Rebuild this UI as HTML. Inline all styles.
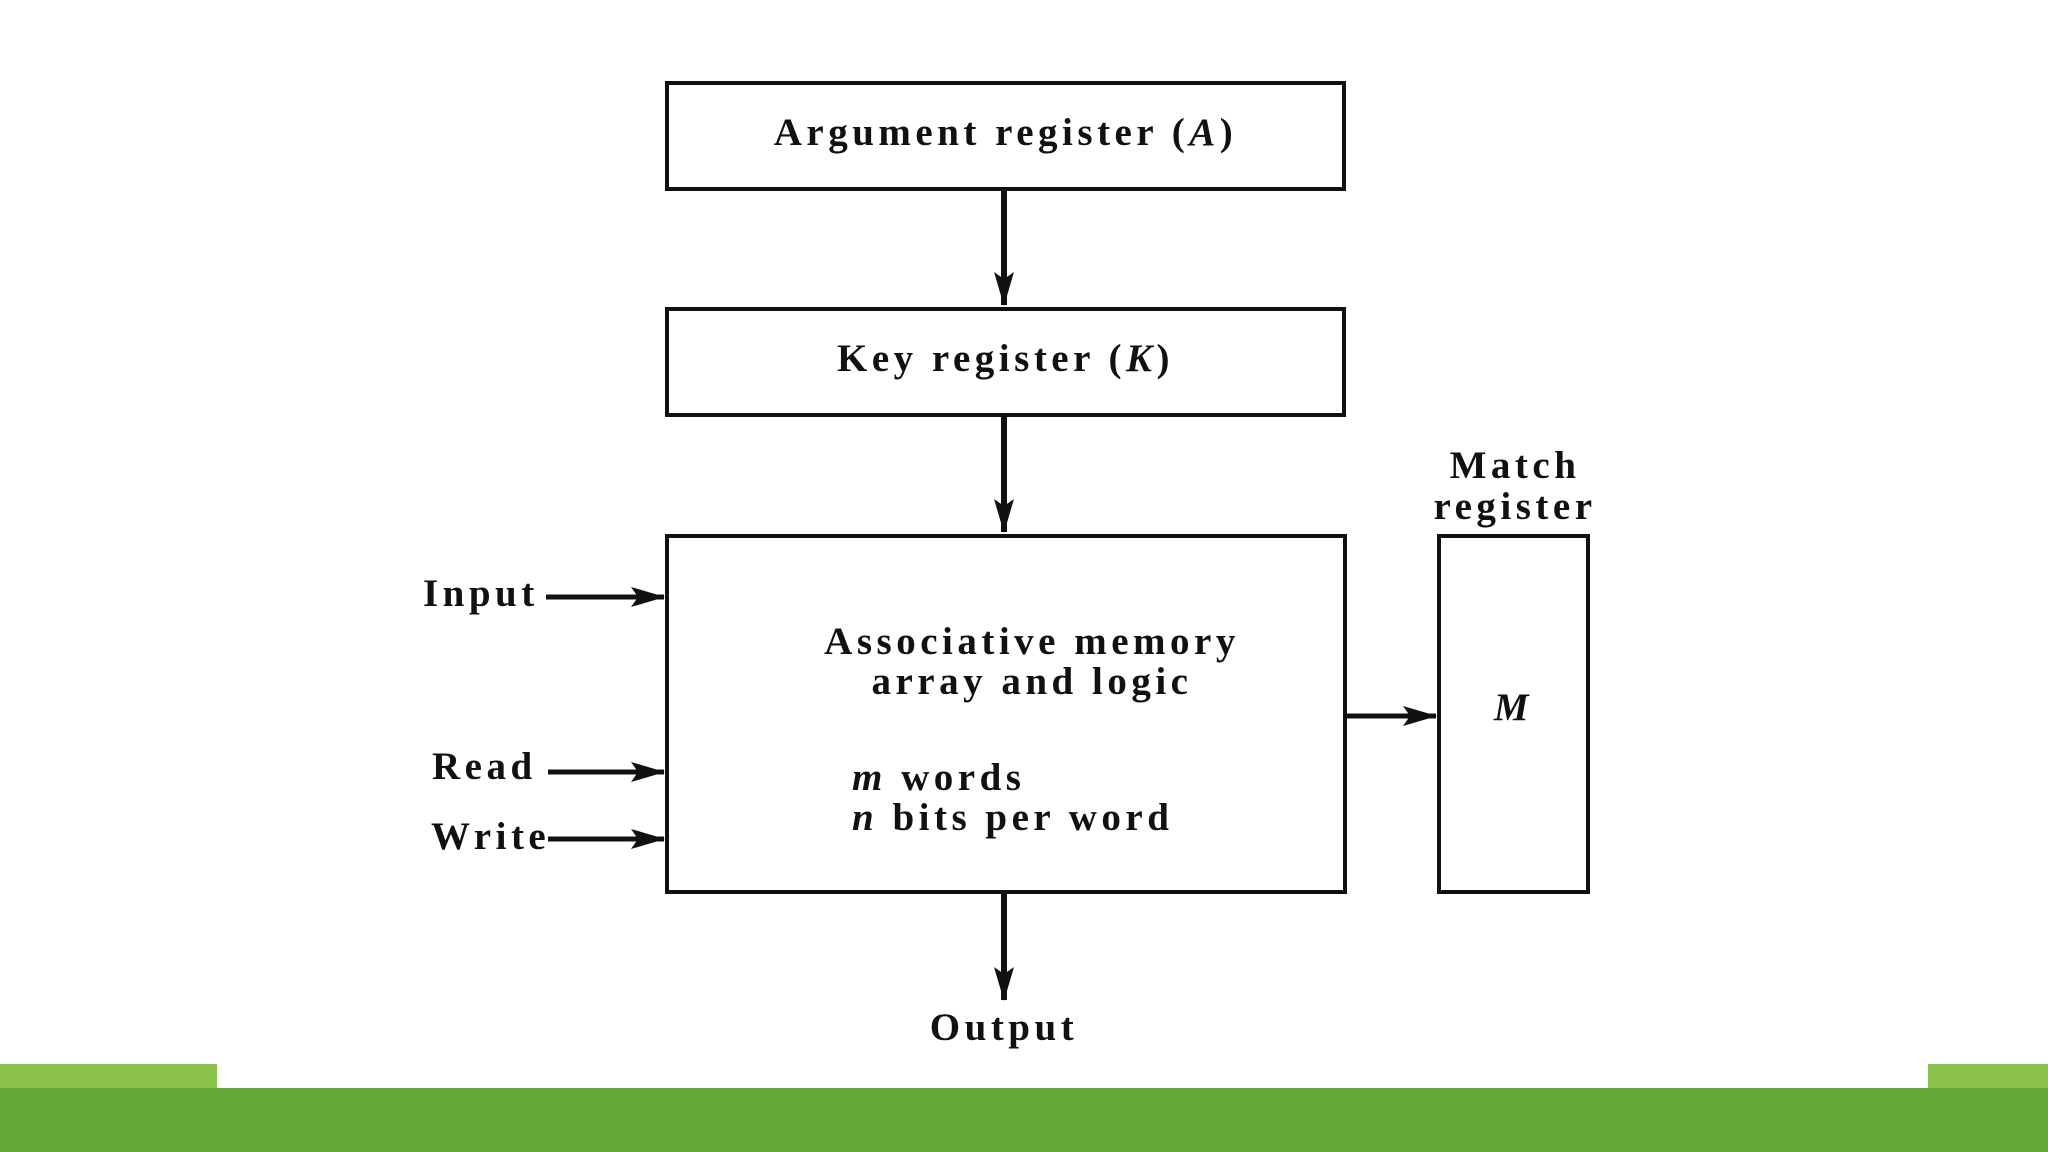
<!DOCTYPE html>
<html><head><meta charset="utf-8"><style>
html,body{margin:0;padding:0;background:#fff;}
body{width:2048px;height:1152px;position:relative;overflow:hidden;font-family:"Liberation Serif",serif;}
.t{position:absolute;font-weight:bold;font-size:39px;letter-spacing:4.5px;color:#111;white-space:nowrap;}
</style></head><body>
<div style="position:absolute;left:0;top:1064px;width:217px;height:24px;background:#8bc34a"></div>
<div style="position:absolute;left:1928px;top:1064px;width:120px;height:24px;background:#8bc34a"></div>
<div style="position:absolute;left:0;top:1088px;width:2048px;height:64px;background:#66a835"></div>
<svg width="2048" height="1152" style="position:absolute;left:0;top:0">
<defs>
<marker id="b" viewBox="0 0 34 20" markerWidth="34" markerHeight="20" refX="33" refY="10" orient="auto" markerUnits="userSpaceOnUse"><path d="M0,0 L34,10 L0,20 L7,10 Z" fill="#111"/></marker></defs>
<g fill="none" stroke="#111" stroke-width="4">
<rect x="667" y="83" width="677" height="106"/>
<rect x="667" y="309" width="677" height="106"/>
<rect x="667" y="536" width="678" height="356"/>
<rect x="1439" y="536" width="149" height="356"/>
<g stroke-width="6">
<line x1="1004" y1="189" x2="1004" y2="305" marker-end="url(#b)"/>
<line x1="1004" y1="415" x2="1004" y2="532" marker-end="url(#b)"/>
<line x1="1004" y1="892" x2="1004" y2="1000" marker-end="url(#b)"/>
</g>
<g stroke-width="5">
<line x1="546" y1="597" x2="664" y2="597" marker-end="url(#b)"/>
<line x1="548" y1="772" x2="664" y2="772" marker-end="url(#b)"/>
<line x1="548" y1="839" x2="664" y2="839" marker-end="url(#b)"/>
<line x1="1345" y1="716" x2="1436" y2="716" marker-end="url(#b)"/>
</g>
</g></svg>
<div class="t" style="left:667px;width:677px;text-align:center;top:110px">Argument register (<i>A</i>)</div>
<div class="t" style="left:667px;width:677px;text-align:center;top:336px">Key register (<i>K</i>)</div>
<div class="t" style="left:667px;width:730px;text-align:center;top:622px;line-height:40px">Associative memory<br>array and logic</div>
<div class="t" style="left:852px;top:758px;line-height:40px"><i>m</i> words<br><i>n</i> bits per word</div>
<div class="t" style="left:1415px;width:200px;text-align:center;top:445px;line-height:41px">Match<br>register</div>
<div class="t" style="left:1439px;width:149px;text-align:center;top:685px"><i>M</i></div>
<div class="t" style="left:423px;top:571px">Input</div>
<div class="t" style="left:432px;top:744px">Read</div>
<div class="t" style="left:431px;top:814px">Write</div>
<div class="t" style="left:904px;width:200px;text-align:center;top:1005px">Output</div>
</body></html>
